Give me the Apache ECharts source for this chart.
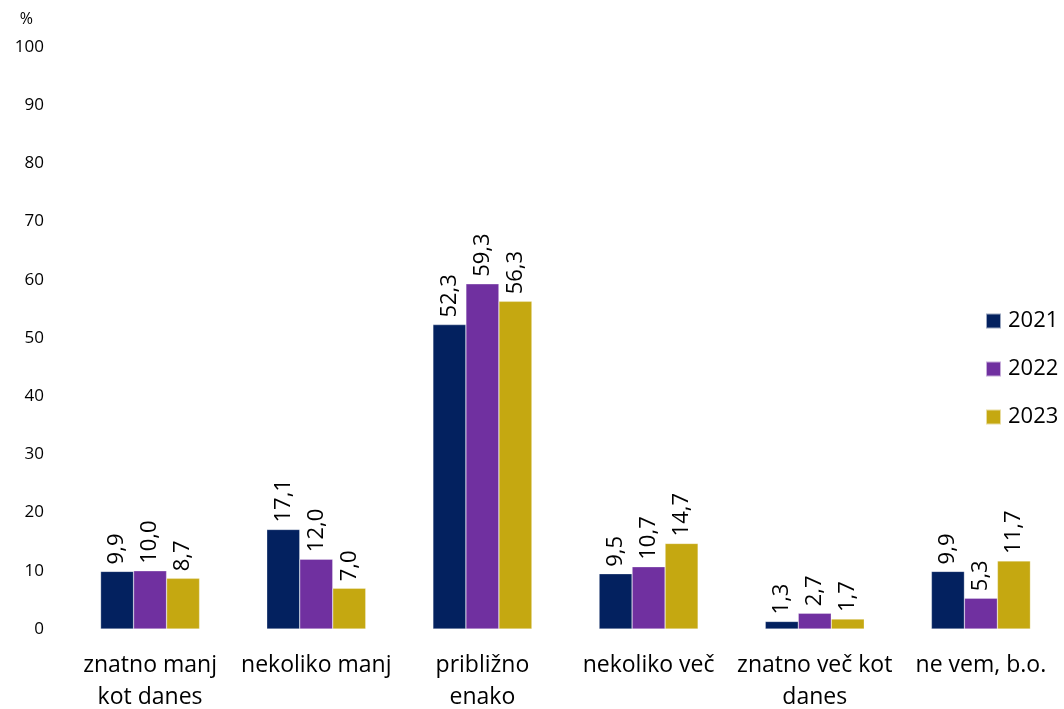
<!DOCTYPE html>
<html>
<head>
<meta charset="utf-8">
<script src="https://cdn.jsdelivr.net/npm/echarts@6/dist/echarts.min.js"></script>
<style>
  html, body { margin: 0; padding: 0; background: #fff; }
  #chart { width: 1064px; height: 709px; }
</style>
</head>
<body>
<div id="chart"></div>
<script>
// Answer categories (x axis)
const categories = [
  'znatno manj\nkot danes',
  'nekoliko manj',
  'približno\nenako',
  'nekoliko več',
  'znatno več kot\ndanes',
  'ne vem, b.o.'
];

// Shares in percent per survey year
const values2021 = [9.9, 17.1, 52.3, 9.5, 1.3, 9.9];
const values2022 = [10.0, 12.0, 59.3, 10.7, 2.7, 5.3];
const values2023 = [8.7, 7.0, 56.3, 14.7, 1.7, 11.7];

const seriesNames = ['2021', '2022', '2023'];
const seriesColors = ['#03215f', '#7030a0', '#c5a811'];
const seriesValues = [values2021, values2022, values2023];

const FONT = '"Open Sans", "Noto Sans", sans-serif';

const fmt = v => v.toFixed(1).replace('.', ',');

const chart = echarts.init(document.getElementById('chart'));
chart.setOption({
  animation: false,
  textStyle: { fontFamily: FONT },
  grid: { left: 67, right: 0, top: 47, bottom: 80, containLabel: false, outerBoundsMode: 'none' },
  legend: {
    orient: 'vertical',
    left: 985,
    top: 310,
    padding: 0,
    itemWidth: 15,
    itemHeight: 15,
    itemGap: 26,
    icon: 'rect',
    textStyle: { fontSize: 22, lineHeight: 22, color: '#000', fontFamily: FONT, padding: [0, 0, 0, 2] },
    data: seriesNames
  },
  xAxis: {
    type: 'category',
    data: categories,
    axisLine: { show: false },
    axisTick: { show: false },
    axisLabel: {
      color: '#000', fontSize: 23, lineHeight: 32, margin: 20, interval: 0, fontFamily: FONT
    }
  },
  yAxis: {
    type: 'value',
    min: 0, max: 100, interval: 10,
    name: '%',
    nameLocation: 'end',
    nameGap: 20,
    nameTextStyle: { color: '#000', fontSize: 16, align: 'right', padding: [0, 34, 0, 0], fontFamily: FONT },
    axisLine: { show: false },
    axisTick: { show: false },
    splitLine: { show: false },
    axisLabel: { color: '#000', fontSize: 17, margin: 23, fontFamily: FONT }
  },
  series: seriesNames.map((name, i) => ({
    name,
    type: 'bar',
    data: seriesValues[i],
    barWidth: 33,
    barGap: '0%',
    itemStyle: { color: seriesColors[i], borderColor: 'rgba(255,255,255,0.6)', borderWidth: 0.5 },
    label: {
      show: true,
      position: 'top',
      rotate: 90,
      align: 'left',
      verticalAlign: 'middle',
      distance: 7,
      color: '#000',
      fontSize: 22,
      fontFamily: FONT,
      formatter: p => fmt(p.value)
    }
  }))
});
</script>
</body>
</html>
